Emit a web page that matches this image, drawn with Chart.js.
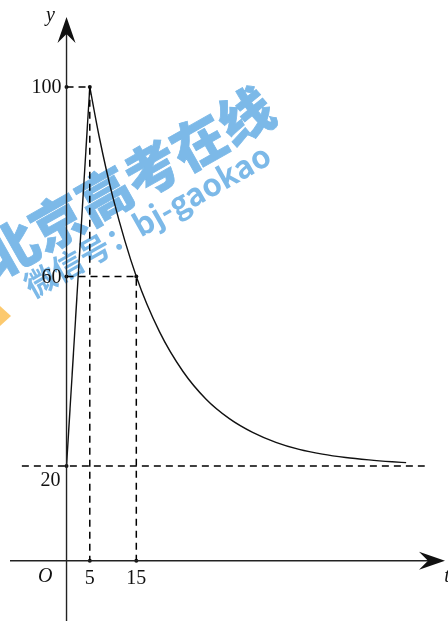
<!DOCTYPE html>
<html>
<head>
<meta charset="utf-8">
<script src="https://cdn.jsdelivr.net/npm/chart.js@4/dist/chart.umd.min.js"></script>
<style>
  html, body { margin: 0; padding: 0; background: #fff; }
  #wrap { width: 448px; height: 621px; }
</style>
</head>
<body>
<div id="wrap"><canvas id="graph" width="448" height="621"></canvas></div>
<script>
// values
const riseT = [0, 5];
const riseY = [20, 100];
const decayT = [5, 7, 10, 15, 20, 25, 30, 35, 40, 45, 50, 55, 60, 65, 70, 73];
const decayY = [100, 89.6, 76.6, 60, 48.3, 40, 34.1, 30, 27.1, 25, 23.5, 22.5, 21.8, 21.3, 20.9, 20.7];
const markT = [0, 5, 0, 15, 5, 15, 0];
const markY = [100, 100, 60, 60, 0, 0, 20];
const xTickValues = [5, 15];
const xTickLabels = ['5', '15'];
const yTickValues = [100, 60, 20];
const yTickLabels = ['100', '60', '20'];
const asymptoteY = 20;

const pts = (xs, ys) => xs.map((x, i) => ({ x: x, y: ys[i] }));

const dashed = (data) => ({
  type: 'line', data: data, borderColor: '#000', borderWidth: 1.5,
  borderDash: [7, 5], pointRadius: 0, fill: false, tension: 0
});

// axes, arrows, labels and the watermark
const axesPlugin = {
  id: 'axes',
  beforeDraw(chart) {
    const ctx = chart.ctx;
    ctx.save();
    ctx.fillStyle = '#7cb9e8';
    ctx.strokeStyle = '#7cb9e8';
    ctx.translate(128, 182);
    ctx.rotate(-29.5 * Math.PI / 180);
    ctx.textAlign = 'center';
    ctx.textBaseline = 'middle';
    ctx.font = '900 54px "Noto Sans CJK SC"';
    ctx.lineWidth = 0.8;
    ctx.fillText('北京高考在线', 0, 0);
    ctx.strokeText('北京高考在线', 0, 0);
    ctx.font = 'bold 31px "Noto Sans CJK SC"';
    ctx.fillText('微信号：bj-gaokao', -2, 43);
    ctx.restore();

    ctx.save();
    ctx.fillStyle = '#fcc96e';
    ctx.beginPath();
    ctx.moveTo(0, 306);
    ctx.lineTo(11, 316);
    ctx.lineTo(0, 326);
    ctx.closePath();
    ctx.fill();
    ctx.restore();
  },
  afterDatasetsDraw(chart) {
    const ctx = chart.ctx;
    const xs = chart.scales.x, ys = chart.scales.y;
    const x0 = xs.getPixelForValue(0), y0 = ys.getPixelForValue(0);
    ctx.save();
    ctx.strokeStyle = '#222';
    ctx.fillStyle = '#111';
    ctx.lineWidth = 1.4;
    // y axis
    ctx.beginPath();
    ctx.moveTo(x0, chart.height);
    ctx.lineTo(x0, 30);
    ctx.stroke();
    ctx.beginPath();
    ctx.moveTo(x0, 17);
    ctx.lineTo(x0 + 9, 43);
    ctx.lineTo(x0, 34);
    ctx.lineTo(x0 - 9, 43);
    ctx.closePath();
    ctx.fill();
    // x axis
    ctx.beginPath();
    ctx.moveTo(10, y0);
    ctx.lineTo(432, y0);
    ctx.stroke();
    ctx.beginPath();
    ctx.moveTo(445, y0);
    ctx.lineTo(419, y0 - 9);
    ctx.lineTo(428, y0);
    ctx.lineTo(419, y0 + 9);
    ctx.closePath();
    ctx.fill();

    ctx.font = '20px "Liberation Serif"';
    ctx.textBaseline = 'middle';
    ctx.textAlign = 'center';
    xTickValues.forEach((v, i) => {
      ctx.fillText(xTickLabels[i], xs.getPixelForValue(v), y0 + 18);
    });
    ctx.textAlign = 'right';
    yTickValues.forEach((v, i) => {
      const yp = ys.getPixelForValue(v);
      if (v === asymptoteY) ctx.fillText(yTickLabels[i], x0 - 6, yp + 15);
      else ctx.fillText(yTickLabels[i], x0 - 5, yp + 1);
    });
    ctx.font = 'italic 20px "Liberation Serif"';
    ctx.fillText('O', x0 - 14, y0 + 16);
    ctx.textAlign = 'center';
    ctx.fillText('y', x0 - 16, 16);
    ctx.fillText('t', 447, y0 + 16);
    ctx.restore();
  }
};

new Chart(document.getElementById('graph'), {
  type: 'line',
  data: {
    datasets: [
      dashed([{ x: 0, y: 100 }, { x: 5, y: 100 }, { x: 5, y: 0 }]),
      dashed([{ x: 0, y: 60 }, { x: 15, y: 60 }, { x: 15, y: 0 }]),
      dashed([{ x: -9.6, y: asymptoteY }, { x: 77, y: asymptoteY }]),
      {
        type: 'line', data: pts(riseT, riseY), borderColor: '#111',
        borderWidth: 1.4, pointRadius: 0, tension: 0, fill: false
      },
      {
        type: 'line', data: pts(decayT, decayY), borderColor: '#111',
        borderWidth: 1.4, pointRadius: 0, cubicInterpolationMode: 'monotone', fill: false
      },
      {
        type: 'scatter', data: pts(markT, markY), backgroundColor: '#111',
        borderWidth: 0, pointRadius: 2
      }
    ]
  },
  options: {
    responsive: false,
    animation: false,
    layout: { padding: 0, autoPadding: false },
    plugins: { legend: { display: false }, tooltip: { enabled: false } },
    scales: {
      x: { type: 'linear', display: false, min: -14.3, max: 82 },
      y: { type: 'linear', display: false, min: -12.72, max: 118.36 }
    }
  },
  plugins: [axesPlugin]
});
</script>
</body>
</html>
